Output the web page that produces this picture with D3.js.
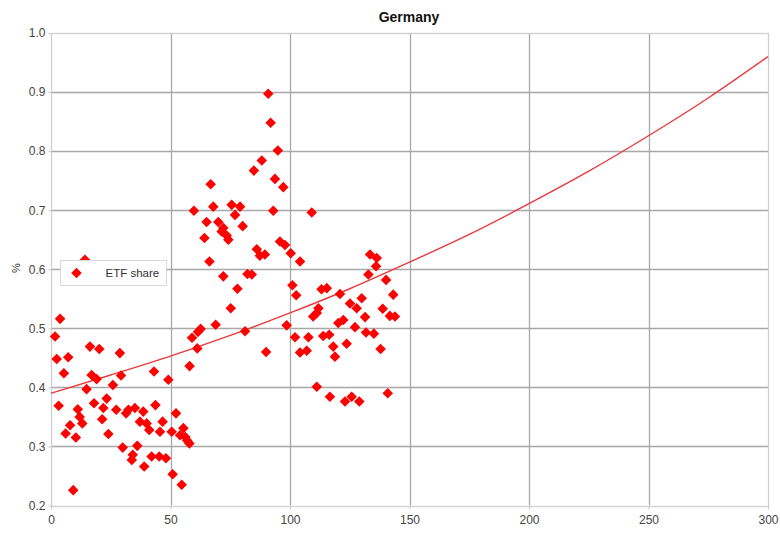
<!DOCTYPE html>
<html>
<head>
<meta charset="utf-8">
<script src="https://cdn.jsdelivr.net/npm/d3@7"></script>
<style>
  html, body { margin: 0; padding: 0; background: #fff; }
  svg { display: block; font-family: "Liberation Sans", Arial, sans-serif; }
</style>
</head>
<body>
<svg id="chart" width="780" height="534"></svg>
<script>
// ETF share observations (x, share)
const shareX = [
  1.7, 3.8, 2.4, 7.2, 14.2, 16.3, 20.2, 28.8, 5.4, 17.0, 19.1, 14.9, 25.9, 29.3,
  3.2, 18.0, 23.3, 21.9, 27.3, 11.2, 12.0, 13.1, 21.4, 8.0, 6.1, 10.4, 24.0, 30.0,
  9.3, 31.4, 32.4, 33.8, 34.2, 35.1, 36.1, 37.2, 38.6, 39.0, 40.0, 41.1, 42.1, 43.1,
  43.7, 45.6, 45.3, 46.7, 48.1, 49.1, 50.5, 50.9, 52.3, 54.0, 54.7, 55.4, 56.2, 57.0,
  57.9, 58.0, 59.0, 61.5, 62.6, 61.2,
  90.9, 91.9, 94.9, 88.2, 84.9, 93.7, 97.2, 66.8, 59.8, 67.9, 75.6, 79.1, 77.0, 93.0,
  65.1, 70.0, 80.2, 72.1, 71.4, 73.5, 74.2, 64.2, 66.3, 95.8, 97.9, 100.3, 104.2, 86.1,
  87.4, 89.5, 72.1, 82.2, 84.0, 78.0, 101.0, 102.6, 75.2, 68.9, 81.2, 98.6, 102.1, 90.0,
  104.2, 109.1,
  133.5, 136.3, 136.0, 132.8, 140.2, 113.2, 115.4, 120.9, 143.2, 130.0, 125.1, 127.9,
  111.9, 111.2, 109.7, 138.8, 141.8, 143.9, 131.4, 122.3, 120.2, 127.2, 107.7, 113.9,
  116.4, 131.8, 135.1, 118.1, 123.7, 107.0, 137.9, 118.8, 111.2, 116.7, 123.0, 125.8,
  129.0, 140.9
];
const shareY = [
  0.486, 0.516, 0.448, 0.451, 0.616, 0.469, 0.465, 0.458, 0.424, 0.421, 0.414, 0.397, 0.404, 0.420,
  0.369, 0.373, 0.381, 0.365, 0.362, 0.363, 0.350, 0.339, 0.346, 0.336, 0.322, 0.315, 0.321, 0.298,
  0.226, 0.356, 0.362, 0.277, 0.286, 0.365, 0.301, 0.342, 0.359, 0.266, 0.339, 0.328, 0.283, 0.427,
  0.370, 0.325, 0.283, 0.342, 0.280, 0.413, 0.325, 0.253, 0.356, 0.319, 0.235, 0.331, 0.316, 0.310,
  0.305, 0.436, 0.484, 0.494, 0.499, 0.466,
  0.897, 0.848, 0.801, 0.784, 0.767, 0.753, 0.739, 0.744, 0.699, 0.706, 0.709, 0.706, 0.692, 0.699,
  0.680, 0.680, 0.673, 0.670, 0.664, 0.657, 0.650, 0.653, 0.613, 0.647, 0.641, 0.627, 0.613, 0.634,
  0.623, 0.625, 0.588, 0.592, 0.591, 0.567, 0.573, 0.556, 0.534, 0.506, 0.495, 0.505, 0.485, 0.460,
  0.459, 0.696,
  0.625, 0.619, 0.605, 0.591, 0.582, 0.566, 0.568, 0.558, 0.557, 0.551, 0.542, 0.534,
  0.534, 0.526, 0.520, 0.533, 0.521, 0.520, 0.519, 0.514, 0.509, 0.502, 0.485, 0.487,
  0.489, 0.493, 0.491, 0.469, 0.474, 0.462, 0.465, 0.452, 0.401, 0.384, 0.376, 0.384,
  0.376, 0.390
];

// Exponential trend line, sampled along the x range
const trendX = [0, 25, 50, 75, 100, 125, 150, 175, 200, 225, 250, 275, 300];
const trendY = [0.390, 0.421, 0.453, 0.488, 0.526, 0.567, 0.612, 0.659, 0.711, 0.766, 0.826, 0.890, 0.960];

const xTicks = [0, 50, 100, 150, 200, 250, 300];
const yTicks = [0.2, 0.3, 0.4, 0.5, 0.6, 0.7, 0.8, 0.9, 1.0];

const chartTitle = "Germany";
const yAxisLabel = "%";
const seriesName = "ETF share";

const svg = d3.select("#chart");
const margin = { left: 51, right: 12, top: 33, bottom: 28.5 };
const W = 780, H = 534;

const x = d3.scaleLinear().domain([0, 300]).range([margin.left, W - margin.right]);
const y = d3.scaleLinear().domain([0.2, 1.0]).range([H - margin.bottom, margin.top]);

// grid lines
const grid = svg.append("g");
grid.selectAll("line.vx").data(xTicks.filter(d => d > 0 && d < 300)).join("line")
  .attr("x1", d => Math.round(x(d)) + 0.5).attr("x2", d => Math.round(x(d)) + 0.5)
  .attr("y1", y(1.0)).attr("y2", y(0.2))
  .attr("stroke", "#a8a8a8").attr("stroke-width", 1.3);
grid.selectAll("line.hy").data(yTicks.filter(d => d > 0.2 && d < 1.0)).join("line")
  .attr("y1", d => Math.round(y(d)) + 0.5).attr("y2", d => Math.round(y(d)) + 0.5)
  .attr("x1", x(0)).attr("x2", x(300))
  .attr("stroke", "#a8a8a8").attr("stroke-width", 1.3);

// plot frame
svg.append("rect")
  .attr("x", Math.round(x(0)) + 0.5).attr("y", Math.round(y(1.0)) + 0.5)
  .attr("width", Math.round(x(300)) - Math.round(x(0)))
  .attr("height", Math.round(y(0.2)) - Math.round(y(1.0)))
  .attr("fill", "none").attr("stroke", "#cfcfcf").attr("stroke-width", 1.3);

// axes (labels and short ticks)
const xAxis = svg.append("g")
  .attr("transform", `translate(0,${Math.round(y(0.2)) + 0.5})`)
  .call(d3.axisBottom(x).tickValues(xTicks).tickSize(3).tickPadding(6).tickFormat(d3.format("d")));
const yAxis = svg.append("g")
  .attr("transform", `translate(${Math.round(x(0)) + 0.5},0)`)
  .call(d3.axisLeft(y).tickValues(yTicks).tickSize(3).tickPadding(3).tickFormat(d3.format(".1f")));
[xAxis, yAxis].forEach(a => {
  a.select(".domain").remove();
  a.selectAll(".tick line").attr("stroke", "#c8c8c8");
  a.selectAll(".tick text").attr("fill", "#444").style("font-size", "12px")
    .style("font-family", "'Liberation Sans', Arial, sans-serif");
});

// trend line
const line = d3.line().x((d, i) => x(trendX[i])).y((d, i) => y(trendY[i])).curve(d3.curveMonotoneX);
svg.append("path").datum(trendX)
  .attr("d", line)
  .attr("fill", "none").attr("stroke", "#e8393c").attr("stroke-width", 1.4);

// scatter markers (diamonds)
const diamond = d3.symbol(d3.symbolSquare, 56);
svg.append("g").selectAll("path").data(shareX).join("path")
  .attr("d", diamond)
  .attr("transform", (d, i) => `translate(${x(d)},${y(shareY[i])}) rotate(45)`)
  .attr("fill", "#ff0000");

// title
svg.append("text")
  .attr("x", 409).attr("y", 22)
  .attr("text-anchor", "middle")
  .style("font-size", "14px").style("font-weight", "bold").attr("fill", "#111")
  .text(chartTitle);

// y-axis label
svg.append("text")
  .attr("transform", `translate(20,268) rotate(-90)`)
  .attr("text-anchor", "middle")
  .style("font-size", "11px").attr("fill", "#333")
  .text(yAxisLabel);

// legend
const lg = svg.append("g").attr("transform", "translate(60.5,260.5)");
lg.append("rect").attr("width", 106).attr("height", 25)
  .attr("fill", "#fff").attr("stroke", "#d8d8d8");
lg.append("path").attr("d", diamond)
  .attr("transform", "translate(16,12.5) rotate(45)").attr("fill", "#ff0000");
lg.append("text").attr("x", 45).attr("y", 16.5)
  .style("font-size", "11.5px").attr("fill", "#333")
  .text(seriesName);
</script>
</body>
</html>
